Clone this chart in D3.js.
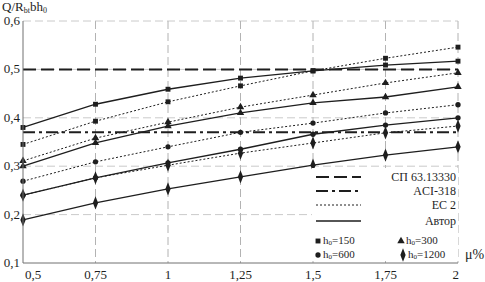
<!DOCTYPE html>
<html lang="en">
<head>
<meta charset="UTF-8">
<title>Q/Rbt bh0 vs mu</title>
<script src="https://d3js.org/d3.v7.min.js"></script>
<style>
  body { margin: 0; background: #fff; }
  svg text { font-family: "Liberation Serif", "Times New Roman", Times, serif; }
</style>
</head>
<body>
<svg id="chart" width="485" height="282"></svg>
<script>
// reinforcement ratio, %
const mu = [0.5, 0.75, 1, 1.25, 1.5, 1.75, 2];
const xTicks = ["0,5", "0,75", "1", "1,25", "1,5", "1,75", "2"];
const yTicks = [0.1, 0.2, 0.3, 0.4, 0.5, 0.6];

// code-based constant values
const spValue = 0.5;
const aciValue = 0.37;

// h0 groups: EC 2 (dotted) and author (solid)
const h0Groups = ["150", "300", "600", "1200"];
const ec2 = {
  "150":  [0.345, 0.393, 0.433, 0.466, 0.497, 0.523, 0.546],
  "300":  [0.311, 0.358, 0.391, 0.422, 0.447, 0.472, 0.493],
  "600":  [0.269, 0.309, 0.340, 0.370, 0.389, 0.410, 0.427],
  "1200": [0.240, 0.276, 0.302, 0.327, 0.348, 0.369, 0.383]
};
const author = {
  "150":  [0.380, 0.428, 0.459, 0.482, 0.497, 0.509, 0.517],
  "300":  [0.300, 0.348, 0.383, 0.410, 0.431, 0.443, 0.464],
  "600":  [0.240, 0.276, 0.307, 0.335, 0.366, 0.385, 0.400],
  "1200": [0.189, 0.224, 0.253, 0.278, 0.302, 0.323, 0.340]
};

const svg = d3.select("#chart");
const x = d3.scaleLinear().domain([0.5, 2]).range([23, 458]);
const y = d3.scaleLinear().domain([0.1, 0.6]).range([263, 21]);
const ink = "#1e1e1e";
const serif = "'Liberation Serif', 'Times New Roman', Times, serif";

// grid
svg.append("g").selectAll("line").data(mu.slice(1)).join("line")
  .attr("x1", d => x(d)).attr("x2", d => x(d))
  .attr("y1", y(0.6)).attr("y2", y(0.1))
  .attr("stroke", "#a0a0a0").attr("stroke-width", 0.8)
  .attr("stroke-dasharray", "8,4");
svg.append("g").selectAll("line").data(yTicks.slice(1)).join("line")
  .attr("x1", x(0.5)).attr("x2", x(2))
  .attr("y1", d => y(d)).attr("y2", d => y(d))
  .attr("stroke", "#bcbcbc").attr("stroke-width", 0.8)
  .attr("stroke-dasharray", "8,4");

// reference lines
svg.append("line")
  .attr("x1", x(0.5)).attr("x2", x(2)).attr("y1", y(spValue)).attr("y2", y(spValue))
  .attr("stroke", ink).attr("stroke-width", 2).attr("stroke-dasharray", "13,5");
svg.append("line")
  .attr("x1", x(0.5)).attr("x2", x(2)).attr("y1", y(aciValue)).attr("y2", y(aciValue))
  .attr("stroke", ink).attr("stroke-width", 2).attr("stroke-dasharray", "12,4,3,4");

const line = d3.line().x((d, i) => x(mu[i])).y(d => y(d));

const symbols = {
  "150":  d3.symbol().type(d3.symbolSquare).size(24),
  "300":  d3.symbol().type(d3.symbolTriangle).size(24),
  "600":  d3.symbol().type(d3.symbolCircle).size(22),
  "1200": d3.symbol().type(d3.symbolDiamond).size(30)
};

function drawMarkers(g, vals, key) {
  g.selectAll("path.m").data(vals).join("path")
    .attr("class", "m")
    .attr("d", symbols[key]())
    .attr("transform", (d, i) => `translate(${x(mu[i])},${y(d)})` + (key === "1200" ? " scale(0.9,1.3)" : ""))
    .attr("fill", ink);
}

h0Groups.forEach(key => {
  const g1 = svg.append("g");
  g1.append("path").attr("d", line(ec2[key]))
    .attr("fill", "none").attr("stroke", ink).attr("stroke-width", 1)
    .attr("stroke-dasharray", "2,2");
  drawMarkers(g1, ec2[key], key);
  const g2 = svg.append("g");
  g2.append("path").attr("d", line(author[key]))
    .attr("fill", "none").attr("stroke", ink).attr("stroke-width", 1.3);
  drawMarkers(g2, author[key], key);
});

// legend
svg.append("rect")
  .attr("x", 312).attr("y", 168).attr("width", 146).attr("height", 89)
  .attr("fill", "#fff");

const legendItems = [
  { label: "СП 63.13330", dash: "13,5", w: 2, y: 177 },
  { label: "ACI-318", dash: "12,4,3,4", w: 2, y: 191 },
  { label: "EC 2", dash: "2,2", w: 1, y: 205 },
  { label: "Автор", dash: null, w: 1.3, y: 221 }
];
const lg = svg.append("g");
legendItems.forEach(it => {
  lg.append("line").attr("x1", 316).attr("x2", 361)
    .attr("y1", it.y).attr("y2", it.y)
    .attr("stroke", ink).attr("stroke-width", it.w)
    .attr("stroke-dasharray", it.dash);
  lg.append("text").attr("x", 456).attr("y", it.y + 4)
    .attr("text-anchor", "end").attr("font-size", 12).attr("fill", ink)
    .attr("font-family", serif)
    .text(it.label);
});

const markerLegend = [
  { key: "150", x: 318, y: 241 },
  { key: "300", x: 401, y: 241 },
  { key: "600", x: 318, y: 255 },
  { key: "1200", x: 403, y: 255 }
];
markerLegend.forEach(it => {
  lg.append("path").attr("d", symbols[it.key]())
    .attr("transform", `translate(${it.x},${it.y})` + (it.key === "1200" ? " scale(0.9,1.3)" : ""))
    .attr("fill", ink);
  const t = lg.append("text").attr("x", it.x + 5).attr("y", it.y + 3)
    .attr("font-size", 11).attr("fill", ink).attr("font-family", serif);
  t.append("tspan").text("h");
  t.append("tspan").attr("font-size", 7).attr("dy", 1).text("0");
  t.append("tspan").attr("dy", -1).text("=" + it.key);
});

// axes
svg.append("line").attr("x1", x(0.5)).attr("x2", x(0.5)).attr("y1", y(0.6)).attr("y2", y(0.1))
  .attr("stroke", "#707070").attr("stroke-width", 1);
svg.append("line").attr("x1", x(0.5)).attr("x2", x(2)).attr("y1", y(0.1)).attr("y2", y(0.1))
  .attr("stroke", "#707070").attr("stroke-width", 1);

svg.append("g").selectAll("text").data(yTicks).join("text")
  .attr("x", 20).attr("y", d => y(d) + 4)
  .attr("text-anchor", "end").attr("font-size", 13).attr("fill", ink)
  .attr("font-family", serif)
  .text(d => d3.format(".1f")(d).replace(".", ","));

svg.append("g").selectAll("text").data(mu).join("text")
  .attr("x", (d, i) => i === 0 ? x(d) + 2 : (i === mu.length - 1 ? x(d) + 1 : x(d)))
  .attr("y", 279)
  .attr("text-anchor", (d, i) => i === 0 ? "start" : (i === mu.length - 1 ? "end" : "middle"))
  .attr("font-size", 13).attr("fill", ink).attr("font-family", serif)
  .text((d, i) => xTicks[i]);

// axis titles
const yt = svg.append("text").attr("x", 2).attr("y", 11).attr("font-size", 13)
  .attr("fill", ink).attr("font-family", serif);
yt.append("tspan").text("Q/R");
yt.append("tspan").attr("font-size", 8).attr("dy", 2).text("bt");
yt.append("tspan").attr("dy", -2).text("bh");
yt.append("tspan").attr("font-size", 8).attr("dy", 2).text("0");

svg.append("text").attr("x", 465).attr("y", 259).attr("font-size", 14).attr("fill", ink)
  .attr("font-family", serif)
  .text("μ%");
</script>
</body>
</html>
